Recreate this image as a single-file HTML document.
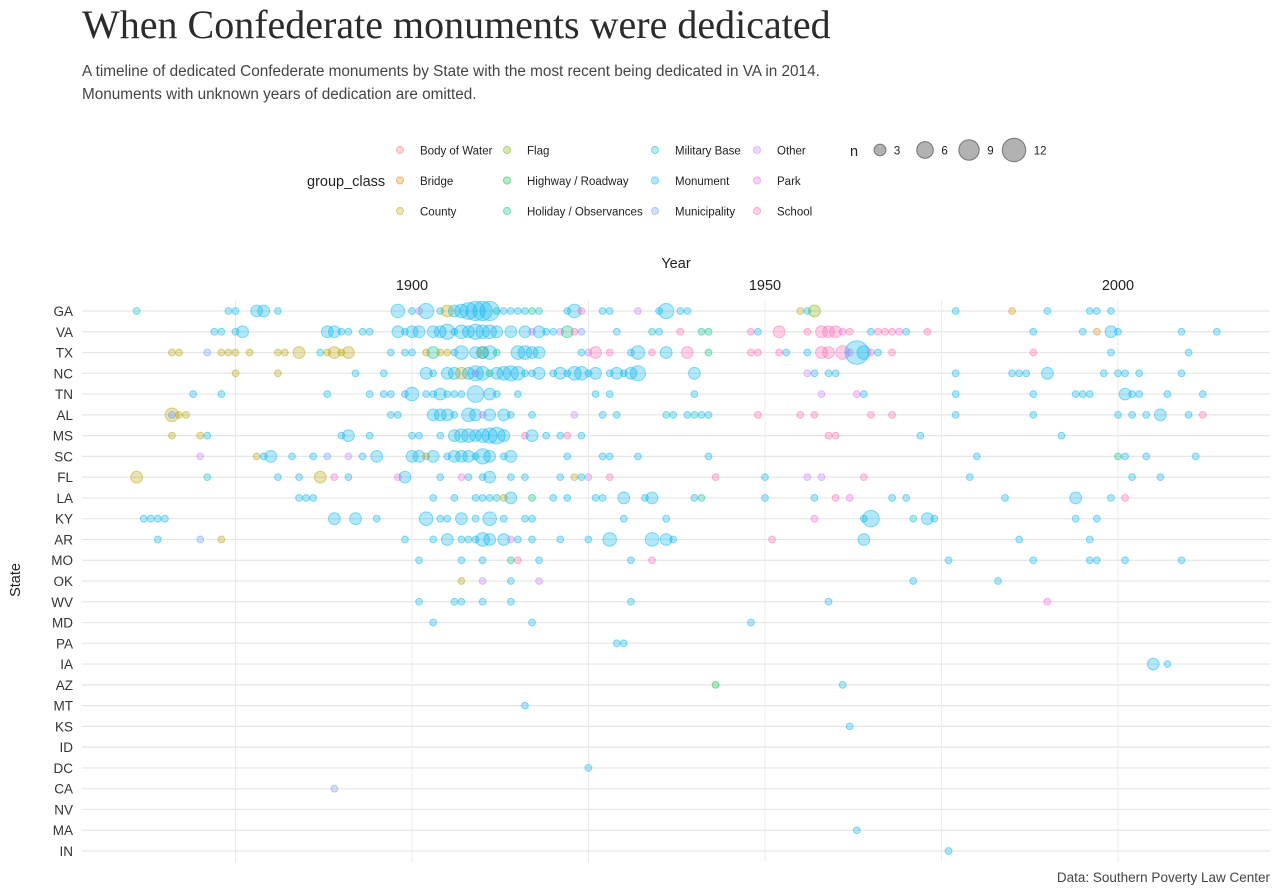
<!DOCTYPE html>
<html><head><meta charset="utf-8">
<style>
html,body{margin:0;padding:0;background:#fff;}
body{width:1280px;height:896px;overflow:hidden;position:relative;font-family:"Liberation Sans",sans-serif;color:#333;}
#title{position:absolute;left:82px;top:1px;font-family:"Liberation Serif",serif;font-size:40px;color:#2b2b2b;white-space:nowrap;}
#subtitle{position:absolute;left:82px;top:60px;font-size:15.3px;line-height:23px;color:#444;}
svg{position:absolute;left:0;top:0;}
</style></head><body>
<div id="title">When Confederate monuments were dedicated</div>
<div id="subtitle">A timeline of dedicated Confederate monuments by State with the most recent being dedicated in VA in 2014.<br>Monuments with unknown years of dedication are omitted.</div>
<svg id="chart" width="1280" height="896"></svg>
<script>
const states = ["GA","VA","TX","NC","TN","AL","MS","SC","FL","LA","KY","AR","MO","OK","WV","MD","PA","IA","AZ","MT","KS","ID","DC","CA","NV","MA","IN"];
const xTicks = [1900,1950,2000];
const xGrid = [1875,1900,1925,1950,1975,2000];
const classNames = ["Body of Water","Bridge","County","Flag","Highway / Roadway","Holiday / Observances","Military Base","Monument","Municipality","Other","Park","School"];
const classCodes = ["W","B","C","F","H","O","X","M","U","T","P","S"];
const classColors = ["#F8766D","#DE8C00","#B79F00","#7CAE00","#00BA38","#00C08B","#00BFC4","#00B4F0","#619CFF","#C77CFF","#F564E3","#FF64B0"];
const sizeLegend = [3,6,9,12];
// entries: year[:n][class code], default n=1, class Monument
const GA = ["1861X","1874","1875","1878:3","1879:3","1881","1898:4","1900","1901T","1902:5","1904","1905:3C","1906:3","1907:4","1908:6","1909:8","1910:8","1911:8","1912X","1913","1914","1915","1916","1917O","1918X","1922","1923:4","1924S","1927","1928","1932T","1935","1936:5","1938","1939","1955C","1956","1957:3F","1977","1985B","1990","1996","1997","1999"];
const VA = ["1872","1873","1875","1876:3","1888:3","1889:3","1890","1891","1893","1894","1898:3","1899","1900:3","1901:3","1903:3","1904:3","1905:5","1906","1907:4","1908:3","1909:5","1910:4","1911:4","1912:3","1914:3","1916:3","1917T","1918:3","1919","1920","1921T","1922:3O","1923S","1924U","1929","1934X","1935","1938S","1941O","1942O","1948S","1949","1952:3S","1956S","1958:3S","1959:3S","1960:3S","1961P","1962S","1965","1966S","1967S","1968S","1969P","1970","1973S","1988","1995","1997B","1999:3","2000","2009","2014"];
const TX = ["1866C","1867C","1871U","1873C","1874C","1875C","1877C","1881C","1882C","1884:3C","1887X","1888C","1889:3C","1890C","1891:3C","1897","1899","1900","1902C","1903:3O","1904C","1905C","1906","1907:4","1909:3","1910:3C","1910:3","1911:4","1912O","1915:4","1916:4","1917:3","1918:3","1924","1925T","1926:3S","1928S","1931","1932:4","1934S","1936:3","1939:3S","1942O","1948S","1949S","1952S","1953","1956","1958:3S","1959:3S","1961:4S","1962T","1963:12","1964:4","1965S","1966","1968S","1988S","1999","2010"];
const NC = ["1875C","1881C","1892","1896","1902:3","1903","1905:3","1906:3","1907:3C","1908:3","1909T","1909:5","1910:4","1911O","1912:3","1913:4","1914:5","1915:4","1916","1917","1918:3","1920","1921:3","1922","1923:4","1924:4","1925","1926:3","1928","1929:3","1930","1931:3","1932:5","1940:3","1956T","1957","1959","1960","1977","1985","1986","1987","1990:3","1998","2000","2001","2003","2009"];
const TN = ["1869","1873","1888","1894","1896","1897","1899","1900:4","1902","1903","1904:3","1905","1906","1907","1909:6","1911:3","1912","1915","1926","1928","1940","1958T","1963P","1964","1977","1988","1994","1995","1996","2001:3","2002","2003","2007","2012"];
const AL = ["1866:4C","1866U","1867C","1868C","1897","1898","1903:3","1904:3","1905:3","1906","1908:4","1909:3","1910T","1911:3","1913:3","1914","1917","1923T","1927","1929","1936X","1937","1939","1940X","1941","1942","1949S","1955S","1957S","1965S","1968S","1977","1988","2000","2002","2004","2006:3","2010","2012S"];
const MS = ["1866C","1870C","1871","1890","1891:3","1894","1900","1901","1904","1906:3","1907:4","1908:4","1909:3","1910:4","1911:5","1912:6","1913:3","1916S","1917:3","1919","1921","1922S","1924","1959S","1960S","1972","1992"];
const SC = ["1870T","1878C","1879","1880:3","1883","1886","1888U","1891T","1893","1895:3","1900:3","1901:3","1902C","1903:3","1905","1906:3","1907:3","1908:3","1909","1910:5","1911:3","1913","1914:3","1922","1927","1928","1932","1942","1980","2000O","2001","2004","2011"];
const FL = ["1861:3C","1871X","1881","1884","1887:3C","1889P","1891","1898P","1899:3","1904","1907P","1908","1910","1911:3","1914","1916","1921","1923C","1924","1925T","1928S","1943S","1950","1956T","1958T","1964S","1979","2002","2006"];
const LA = ["1884","1885","1886","1903","1906","1909","1910","1911","1912X","1913C","1914:3","1917O","1920","1922","1926","1927","1930:3","1933","1934:3","1940","1941O","1950","1957","1960S","1962P","1968","1970","1984","1994:3","1999","2001S"];
const KY = ["1862","1863","1864","1865","1889:3","1892:3","1895","1902:4","1904","1905","1907:3","1909","1911:4","1913","1916","1917","1930","1936","1957P","1964","1965:6","1971X","1973:3","1974","1994","1997"];
const AR = ["1864","1870U","1873C","1899","1903","1905:3","1907","1908","1909","1910:4","1911:3","1913:3","1914T","1915","1917","1921","1925","1928:4","1934:4","1936:3","1937","1951S","1964:3","1986","1996"];
const MO = ["1901","1907","1910","1914O","1915S","1918","1931","1934S","1976","1988","1996","1997","2001","2009"];
const OK = ["1907C","1910T","1914","1918T","1971","1983"];
const WV = ["1901","1906","1907","1910","1914","1931","1959","1990P"];
const MD = ["1903","1917","1948"];
const PA = ["1929","1930"];
const IA = ["2005:3","2007"];
const AZ = ["1943H","1961"];
const MT = ["1916"];
const KS = ["1962"];
const ID = [];
const DC = ["1925"];
const CA = ["1889U"];
const NV = [];
const MA = ["1963"];
const IN = ["1976"];
const stateData = {GA,VA,TX,NC,TN,AL,MS,SC,FL,LA,KY,AR,MO,OK,WV,MD,PA,IA,AZ,MT,KS,ID,DC,CA,NV,MA,IN};

const NS="http://www.w3.org/2000/svg";
const svg=document.getElementById('chart');
function x(year){return 412+(year-1900)*(353/50);}
function y(i){return 311+i*(540/26);}
function r(n){return 3.4*Math.sqrt(n);}
function mk(tag,attrs,parent){const e=document.createElementNS(NS,tag);for(const k in attrs)e.setAttribute(k,attrs[k]);(parent||svg).appendChild(e);return e;}
function txt(s,attrs,parent){const e=mk('text',attrs,parent);e.textContent=s;return e;}
const FONT='"Liberation Sans",sans-serif';

const grid=mk('g',{});


states.forEach((s,i)=>{const l=mk('line',{x1:82,x2:1270,y1:y(i),y2:y(i),stroke:'#e6e6e6','stroke-width':1.2},grid);

});
xGrid.forEach(v=>{const l=mk('line',{x1:x(v),x2:x(v),y1:300,y2:862,stroke:'#ebebeb','stroke-width':1},grid);

});

xTicks.forEach(v=>{const t=txt(v,{x:x(v),y:290,'text-anchor':'middle','font-size':14.5,'font-family':FONT,fill:'#222'});

});
let t=txt('Year',{x:676,y:268,'text-anchor':'middle','font-size':14.5,'font-family':FONT,fill:'#222'});


states.forEach((s,i)=>{const e=txt(s,{x:73,y:y(i)+5,'text-anchor':'end','font-size':13.5,'font-family':FONT,fill:'#333'});

});
t=txt('State',{x:0,y:0,'text-anchor':'middle','font-size':14.5,'font-family':FONT,fill:'#222',transform:'translate(20,580) rotate(-90)'});


t=txt('Data: Southern Poverty Law Center',{x:1270,y:882,'text-anchor':'end','font-size':13.5,'font-family':FONT,fill:'#444'});



const pts=mk('g',{});


states.forEach((s,i)=>{
  stateData[s].forEach(e=>{
    const m=e.match(/^(\d{4})(?::(\d+))?([A-Z]?)$/);
    const yr=+m[1], n=m[2]?+m[2]:1, code=m[3]||'M';
    const col=classColors[classCodes.indexOf(code)];
    const c=mk('circle',{cx:x(yr),cy:y(i),r:r(n),fill:col,'fill-opacity':0.3,stroke:col,'stroke-opacity':0.45,'stroke-width':1},pts);
    
    
  });
});

const lg=mk('g',{});


t=txt('group_class',{x:307,y:186,'font-size':14.5,'font-family':FONT,fill:'#222'},lg);


const colX=[400,507,655,757];
classNames.forEach((nm,k)=>{
  const cx=colX[Math.floor(k/3)], cy=150+(k%3)*30.5;
  const g=mk('g',{},lg);
  
  
  mk('circle',{cx:cx,cy:cy,r:3.6,fill:classColors[k],'fill-opacity':0.3,stroke:classColors[k],'stroke-opacity':0.45},g);
  txt(nm,{x:cx+20,y:cy+4.5,'font-size':11.5,'font-family':FONT,fill:'#222'},g);
});
const sg=mk('g',{});


t=txt('n',{x:850,y:156,'font-size':14.5,'font-family':FONT,fill:'#222'},sg);


const sX=[880,925,969,1014];
sizeLegend.forEach((n,k)=>{
  const g=mk('g',{},sg);
  
  
  mk('circle',{cx:sX[k],cy:150,r:r(n),fill:'#000','fill-opacity':0.3,stroke:'#000','stroke-opacity':0.45},g);
  txt(n,{x:sX[k]+r(n)+8,y:154.5,'font-size':11.5,'font-family':FONT,fill:'#222','text-anchor':'start'},g);
});
</script>
</body></html>
